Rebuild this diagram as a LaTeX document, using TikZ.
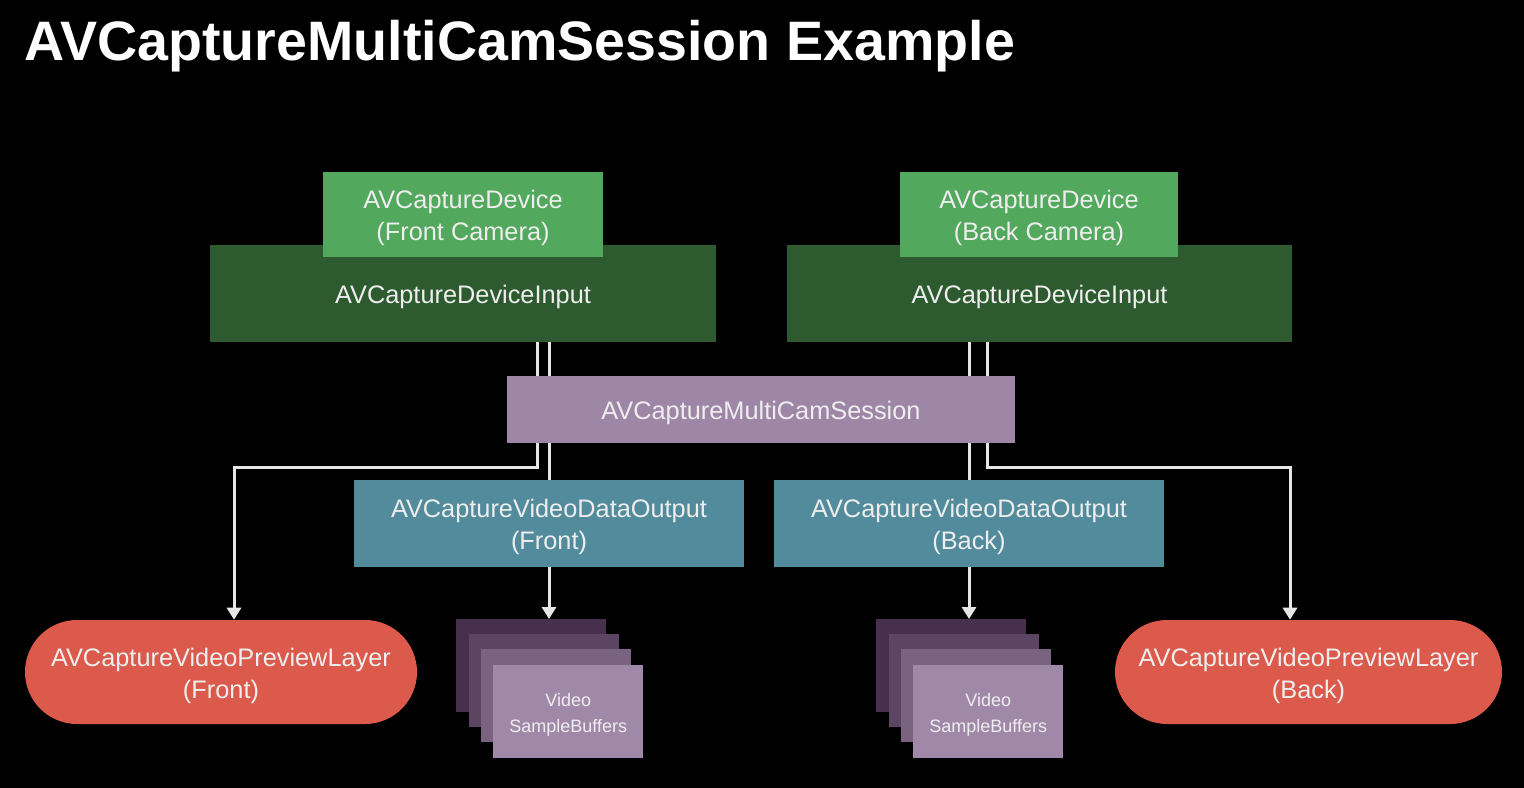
\documentclass[tikz,border=0pt]{standalone}
\usepackage{fontspec}
\setmainfont{Liberation Sans}
\usetikzlibrary{arrows.meta}
\pgfdeclarelayer{bg}
\pgfdeclarelayer{lines}
\pgfsetlayers{bg,lines,main}
\definecolor{bgblack}{HTML}{000000}
\definecolor{lgreen}{HTML}{52A85C}
\definecolor{dgreen}{HTML}{2D5B2F}
\definecolor{sesspurple}{HTML}{9E86A6}
\definecolor{teal}{HTML}{528B9B}
\definecolor{pillred}{HTML}{DB5A4B}
\definecolor{buf1}{HTML}{47304D}
\definecolor{buf2}{HTML}{5C4563}
\definecolor{buf3}{HTML}{7A6381}
\definecolor{buf4}{HTML}{A089A8}
\definecolor{linegray}{HTML}{E6E6E6}
\definecolor{boxtext}{HTML}{EEEEEE}
\newcommand\mystrut{\rule{0pt}{19.5pt}}
\newcommand\mysmallstrut{\rule{0pt}{14pt}}
\tikzset{
  box/.style={draw=none, inner sep=0pt, align=center, text=boxtext,
    font=\fontsize{19}{24}\selectfont},
  buf/.style={draw=none, inner sep=0pt, minimum width=112.5pt, minimum height=69.75pt,
    anchor=north west, align=center, text=boxtext, font=\fontsize{13.5}{19.5}\selectfont},
  conn/.style={draw=linegray, line width=2.25pt},
  arr/.style={conn, -{Triangle[length=9pt,width=10.5pt]}},
}
\begin{document}
\begin{tikzpicture}[x=0.75pt,y=-0.75pt]
\begin{pgfonlayer}{bg}
\fill[bgblack] (0,0) rectangle (1524,788);
\end{pgfonlayer}
\useasboundingbox (0,0) rectangle (1524,788);

\node[anchor=base west, inner sep=0pt, text=white,
  font=\bfseries\fontsize{41.7}{50}\selectfont] (title) at (24,61) {AVCaptureMultiCamSession Example};

% inputs
\node[box, fill=dgreen, minimum width=379.5pt, minimum height=72.75pt] (fin) at (463,293.5) {\mystrut AVCaptureDeviceInput};
\node[box, fill=dgreen, minimum width=378.75pt, minimum height=72.75pt] (bin) at (1039.5,293.5) {\mystrut AVCaptureDeviceInput};
% devices
\node[box, fill=lgreen, minimum width=210pt, minimum height=63.75pt] (fdev) at (463,214.5) {\mystrut AVCaptureDevice\\(Front Camera)};
\node[box, fill=lgreen, minimum width=208.5pt, minimum height=63.75pt] (bdev) at (1039,214.5) {\mystrut AVCaptureDevice\\(Back Camera)};
% session
\node[box, fill=sesspurple, minimum width=381pt, minimum height=50.25pt] (sess) at (761,409.5) {\mystrut AVCaptureMultiCamSession};
% data outputs
\node[box, fill=teal, minimum width=292.5pt, minimum height=65.25pt] (fdo) at (549,523.5) {\mystrut AVCaptureVideoDataOutput\\(Front)};
\node[box, fill=teal, minimum width=292.5pt, minimum height=65.25pt] (bdo) at (969,523.5) {\mystrut AVCaptureVideoDataOutput\\(Back)};
% previews
\node[box, fill=pillred, minimum width=294pt, minimum height=78pt, rounded corners=39pt] (fprev) at (221,672) {\mystrut AVCaptureVideoPreviewLayer\\(Front)};
\node[box, fill=pillred, minimum width=290.25pt, minimum height=78pt, rounded corners=39pt] (bprev) at (1308.5,672) {\mystrut AVCaptureVideoPreviewLayer\\(Back)};
% buffers front
\node[buf, fill=buf1] (fb1) at (456,619) {};
\node[buf, fill=buf2] (fb2) at (468.5,634) {};
\node[buf, fill=buf3] (fb3) at (481,649) {};
\node[buf, fill=buf4] (fb4) at (493,665) {\mysmallstrut Video\\SampleBuffers};
% buffers back
\node[buf, fill=buf1] (bb1) at (876,619) {};
\node[buf, fill=buf2] (bb2) at (888.5,634) {};
\node[buf, fill=buf3] (bb3) at (901,649) {};
\node[buf, fill=buf4] (bb4) at (913,665) {\mysmallstrut Video\\SampleBuffers};

\begin{pgfonlayer}{lines}
\coordinate (fa) at (537,467);
\coordinate (ba) at (987,467);
% front
\draw[arr] (fin.south -| fa) -- (fa) -| (fprev.north -| 234,0);
\draw[conn] (fin.south -| fdo.north) -- (fdo.north);
\draw[arr] (fdo.south) -- (fdo.south |- fb1.north);
% back
\draw[arr] (bin.south -| ba) -- (ba) -| (bprev.north -| 1290,0);
\draw[conn] (bin.south -| bdo.north) -- (bdo.north);
\draw[arr] (bdo.south) -- (bdo.south |- bb1.north);
\end{pgfonlayer}
\end{tikzpicture}
\end{document}
